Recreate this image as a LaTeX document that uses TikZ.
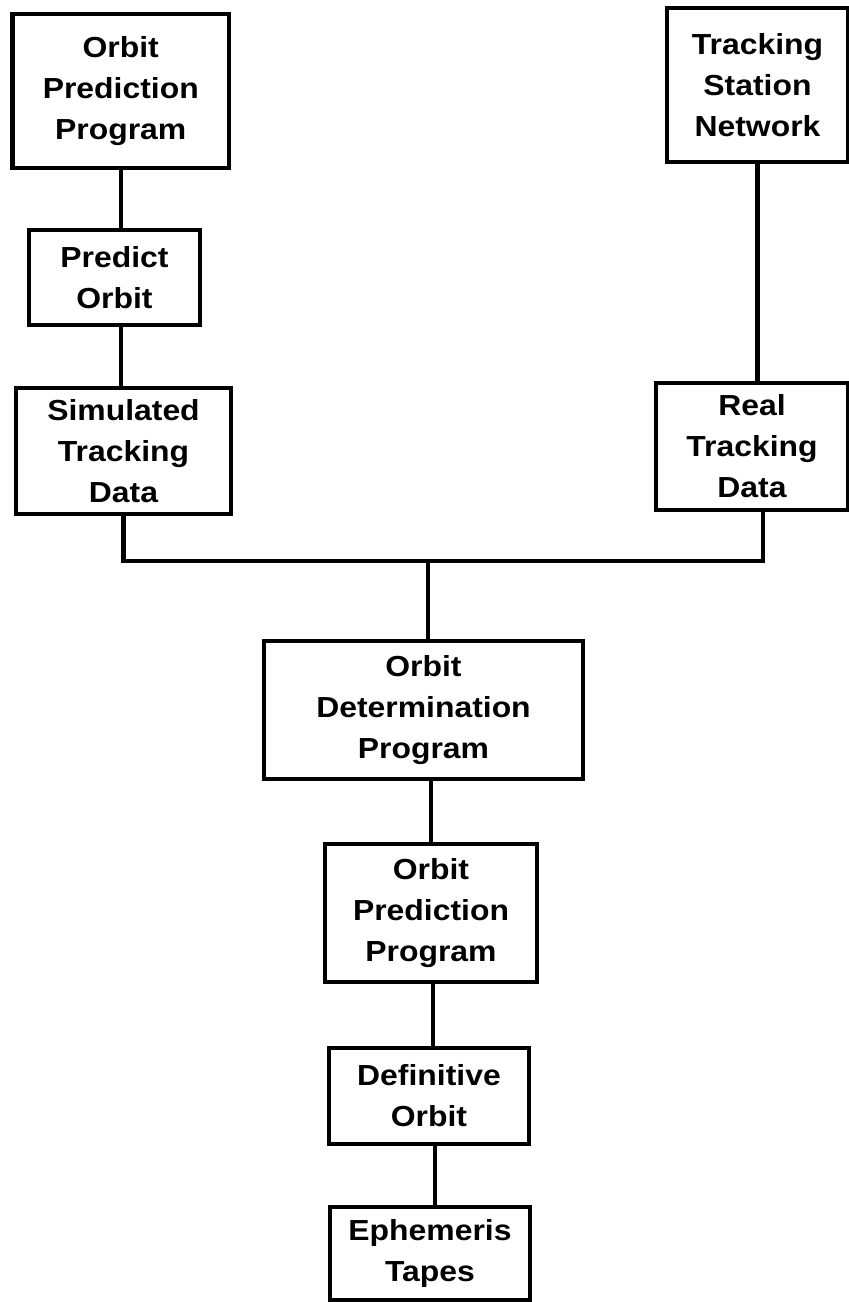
\documentclass[tikz,border=0pt]{standalone}
\usepackage{fontspec}
\newfontfamily\lblfont{Liberation Sans}[FakeStretch=1.1]
\begin{document}
\begin{tikzpicture}[x=1pt,y=-1pt,
  box/.style={draw=black, line width=4.5pt, fill=white, inner sep=0pt, align=center,
    font=\lblfont\bfseries\fontsize{29}{41}\selectfont},
  link/.style={draw=black, line width=4.5pt}]
\useasboundingbox (0,0) rectangle (849,1302);
\node[box, minimum width=216.5pt, minimum height=154pt] (A) at (120.75,91) {Orbit\\Prediction\\Program};
\node[box, minimum width=181pt, minimum height=154pt] (B) at (757.5,85) {Tracking\\Station\\Network};
\node[box, minimum width=171pt, minimum height=95pt] (C) at (114.5,277.5) {Predict\\Orbit};
\node[box, minimum width=215pt, minimum height=126pt] (D) at (123.5,451) {Simulated\\Tracking\\Data};
\node[box, minimum width=192pt, minimum height=127pt] (E) at (752,446.5) {Real\\Tracking\\Data};
\node[box, minimum width=319pt, minimum height=138pt] (F) at (423.5,710) {Orbit\\Determination\\Program};
\node[box, minimum width=212pt, minimum height=138pt] (G) at (431,913) {Orbit\\Prediction\\Program};
\node[box, minimum width=200pt, minimum height=96pt] (H) at (429,1096) {Definitive\\Orbit};
\node[box, minimum width=200pt, minimum height=93pt] (I) at (430,1253.5) {Ephemeris\\Tapes};
\coordinate (J) at (428,561);
\coordinate (Eb) at ([xshift=11pt]E.south);
\draw[link] (A.south) -- (A.south |- C.north);
\draw[link] (A.south |- C.south) -- (A.south |- D.north);
\draw[link] (B.south) -- (B.south |- E.north);
\draw[link] (D.south) |- (J) -| (Eb);
\draw[link] (J) -- (J |- F.north);
\draw[link] (G.north |- F.south) -- (G.north);
\draw[link] ([xshift=2pt]G.south) -- ([xshift=2pt]G.south |- H.north);
\draw[link] ([xshift=6pt]H.south) -- ([xshift=6pt]H.south |- I.north);
\end{tikzpicture}
\end{document}
